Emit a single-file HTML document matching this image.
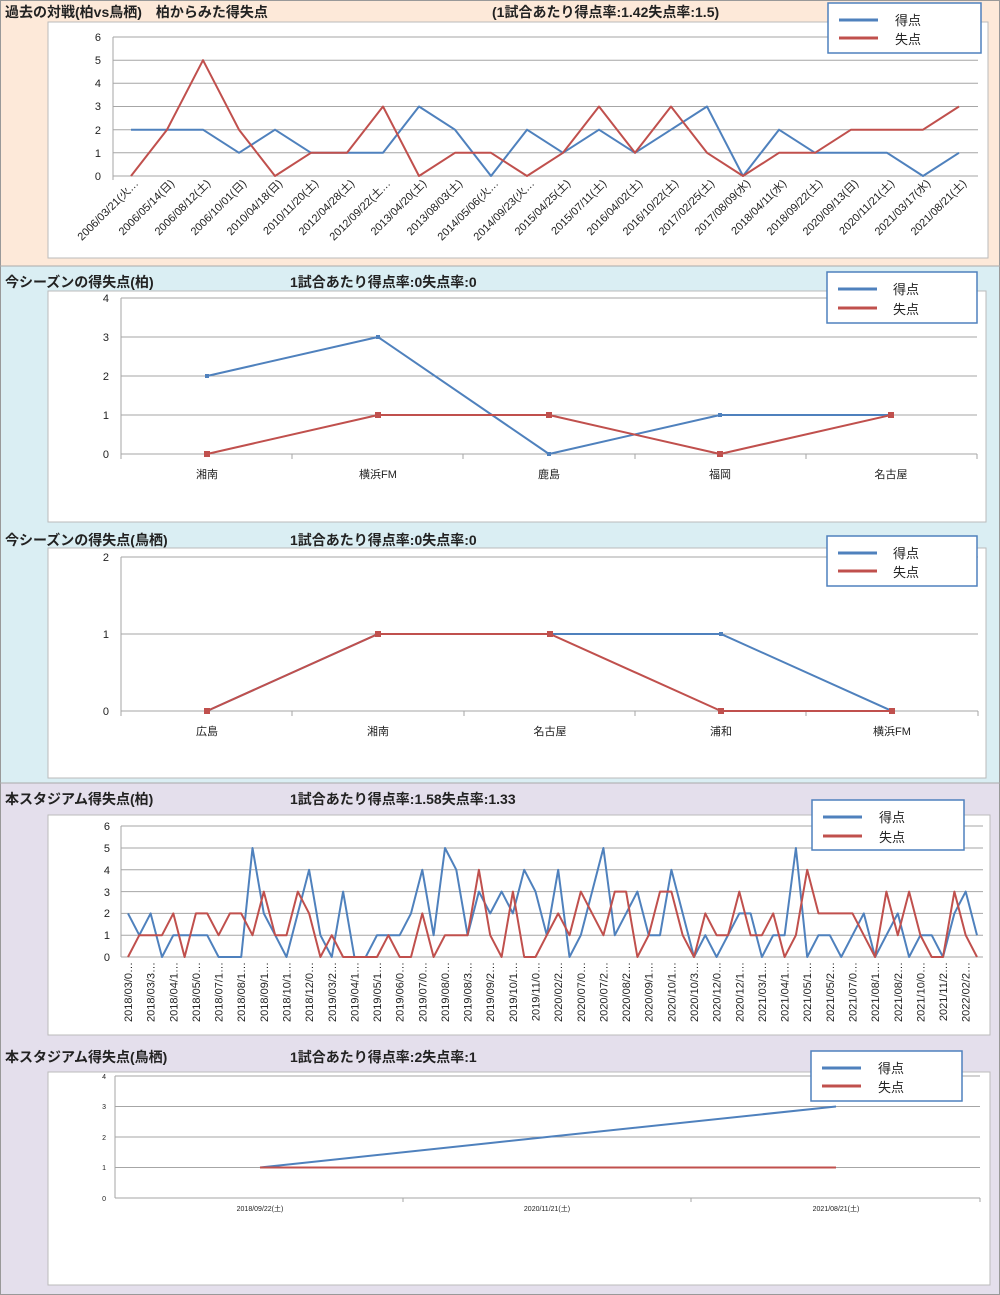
<!DOCTYPE html>
<html><head><meta charset="utf-8"><style>
body{margin:0;padding:0;background:#fff}
svg{display:block}
text{font-family:"Liberation Sans","Noto Sans CJK JP",sans-serif;fill:#222}
.h{font-size:14px;font-weight:bold}
.t{font-size:11px;fill:#333}
.s{font-size:7px;fill:#333}
.g{stroke:#a6a6a6;stroke-width:1}
.b{fill:none;stroke:#4f81bd;stroke-width:2;stroke-linejoin:round}
.r{fill:none;stroke:#c0504d;stroke-width:2;stroke-linejoin:round}
.lg{fill:#fff;stroke:#4f81bd;stroke-width:1.5}
.pl{fill:#fff;stroke:#bbb;stroke-width:1}
</style></head><body>
<svg width="1000" height="1295" viewBox="0 0 1000 1295" xmlns="http://www.w3.org/2000/svg">
<!-- backgrounds -->
<rect x="0" y="0" width="1000" height="266" fill="#fde9d9"/>
<rect x="0" y="266" width="1000" height="517" fill="#daeef3"/>
<rect x="0" y="783" width="1000" height="512" fill="#e4dfec"/>
<rect x="0.5" y="0.5" width="999" height="1294" fill="none" stroke="#999"/>
<line x1="0" y1="266" x2="1000" y2="266" stroke="#aaa"/>
<line x1="0" y1="783" x2="1000" y2="783" stroke="#aaa"/>

<!-- ===== Section 1 ===== -->
<text class="h" x="5" y="17">過去の対戦(柏vs鳥栖)　柏からみた得失点</text>
<text class="h" x="492" y="17">(1試合あたり得点率:1.42失点率:1.5)</text>
<rect class="pl" x="48" y="22" width="940" height="236"/>
<g class="g">
<line x1="113" y1="37" x2="978" y2="37"/><line x1="113" y1="60.2" x2="978" y2="60.2"/><line x1="113" y1="83.3" x2="978" y2="83.3"/><line x1="113" y1="106.5" x2="978" y2="106.5"/><line x1="113" y1="129.7" x2="978" y2="129.7"/><line x1="113" y1="152.8" x2="978" y2="152.8"/><line x1="113" y1="176" x2="978" y2="176"/>
<line x1="113" y1="37" x2="113" y2="180"/>
</g>
<g class="t" text-anchor="end">
<text x="101" y="41">6</text><text x="101" y="64">5</text><text x="101" y="87">4</text><text x="101" y="110">3</text><text x="101" y="134">2</text><text x="101" y="157">1</text><text x="101" y="180">0</text>
</g>
<polyline class="b" points="131,129.7 167,129.7 203,129.7 239,152.8 275,129.7 311,152.8 347,152.8 383,152.8 419,106.5 455,129.7 491,176 527,129.7 563,152.8 599,129.7 635,152.8 671,129.7 707,106.5 743,176 779,129.7 815,152.8 851,152.8 887,152.8 923,176 959,152.8"/>
<polyline class="r" points="131,176 167,129.7 203,60.2 239,129.7 275,176 311,152.8 347,152.8 383,106.5 419,176 455,152.8 491,152.8 527,176 563,152.8 599,106.5 635,152.8 671,106.5 707,152.8 743,176 779,152.8 815,152.8 851,129.7 887,129.7 923,129.7 959,106.5"/>
<g class="t" text-anchor="end">
<text transform="translate(139,184) rotate(-45)">2006/03/21(火…</text>
<text transform="translate(175,184) rotate(-45)">2006/05/14(日)</text>
<text transform="translate(211,184) rotate(-45)">2006/08/12(土)</text>
<text transform="translate(247,184) rotate(-45)">2006/10/01(日)</text>
<text transform="translate(283,184) rotate(-45)">2010/04/18(日)</text>
<text transform="translate(319,184) rotate(-45)">2010/11/20(土)</text>
<text transform="translate(355,184) rotate(-45)">2012/04/28(土)</text>
<text transform="translate(391,184) rotate(-45)">2012/09/22(土…</text>
<text transform="translate(427,184) rotate(-45)">2013/04/20(土)</text>
<text transform="translate(463,184) rotate(-45)">2013/08/03(土)</text>
<text transform="translate(499,184) rotate(-45)">2014/05/06(火…</text>
<text transform="translate(535,184) rotate(-45)">2014/09/23(火…</text>
<text transform="translate(571,184) rotate(-45)">2015/04/25(土)</text>
<text transform="translate(607,184) rotate(-45)">2015/07/11(土)</text>
<text transform="translate(643,184) rotate(-45)">2016/04/02(土)</text>
<text transform="translate(679,184) rotate(-45)">2016/10/22(土)</text>
<text transform="translate(715,184) rotate(-45)">2017/02/25(土)</text>
<text transform="translate(751,184) rotate(-45)">2017/08/09(水)</text>
<text transform="translate(787,184) rotate(-45)">2018/04/11(水)</text>
<text transform="translate(823,184) rotate(-45)">2018/09/22(土)</text>
<text transform="translate(859,184) rotate(-45)">2020/09/13(日)</text>
<text transform="translate(895,184) rotate(-45)">2020/11/21(土)</text>
<text transform="translate(931,184) rotate(-45)">2021/03/17(水)</text>
<text transform="translate(967,184) rotate(-45)">2021/08/21(土)</text>
</g>
<rect class="lg" x="828" y="3" width="153" height="50"/>
<line x1="839" y1="20" x2="878" y2="20" stroke="#4f81bd" stroke-width="3"/>
<line x1="839" y1="38" x2="878" y2="38" stroke="#c0504d" stroke-width="3"/>
<text x="895" y="25" style="font-size:13px">得点</text><text x="895" y="44" style="font-size:13px">失点</text>

<!-- ===== Section 2 ===== -->
<text class="h" x="5" y="287">今シーズンの得失点(柏)</text>
<text class="h" x="290" y="287">1試合あたり得点率:0失点率:0</text>
<rect class="pl" x="48" y="291" width="938" height="231"/>
<g class="g">
<line x1="121" y1="298" x2="977" y2="298"/><line x1="121" y1="337" x2="977" y2="337"/><line x1="121" y1="376" x2="977" y2="376"/><line x1="121" y1="415" x2="977" y2="415"/><line x1="121" y1="454" x2="977" y2="454"/>
<line x1="121" y1="298" x2="121" y2="454"/>
<line x1="121" y1="454" x2="121" y2="459"/><line x1="292" y1="454" x2="292" y2="459"/><line x1="463" y1="454" x2="463" y2="459"/><line x1="635" y1="454" x2="635" y2="459"/><line x1="806" y1="454" x2="806" y2="459"/><line x1="977" y1="454" x2="977" y2="459"/>
</g>
<g class="t" text-anchor="end"><text x="109" y="302">4</text><text x="109" y="341">3</text><text x="109" y="380">2</text><text x="109" y="419">1</text><text x="109" y="458">0</text></g>
<polyline class="b" points="207,376 378,337 549,454 720,415 891,415"/>
<polyline class="r" points="207,454 378,415 549,415 720,454 891,415"/>
<g fill="#4f81bd"><rect x="205" y="374" width="4" height="4"/><rect x="376" y="335" width="4" height="4"/><rect x="547" y="452" width="4" height="4"/><rect x="718" y="413" width="4" height="4"/></g>
<g fill="#c0504d"><rect x="204" y="451" width="6" height="6"/><rect x="375" y="412" width="6" height="6"/><rect x="546" y="412" width="6" height="6"/><rect x="717" y="451" width="6" height="6"/><rect x="888" y="412" width="6" height="6"/></g>
<g class="t" text-anchor="middle"><text x="207" y="478">湘南</text><text x="378" y="478">横浜FM</text><text x="549" y="478">鹿島</text><text x="720" y="478">福岡</text><text x="891" y="478">名古屋</text></g>
<rect class="lg" x="827" y="272" width="150" height="51"/>
<line x1="838" y1="289" x2="877" y2="289" stroke="#4f81bd" stroke-width="3"/>
<line x1="838" y1="308" x2="877" y2="308" stroke="#c0504d" stroke-width="3"/>
<text x="893" y="294" style="font-size:13px">得点</text><text x="893" y="314" style="font-size:13px">失点</text>

<!-- ===== Section 3 ===== -->
<text class="h" x="5" y="545">今シーズンの得失点(鳥栖)</text>
<text class="h" x="290" y="545">1試合あたり得点率:0失点率:0</text>
<rect class="pl" x="48" y="548" width="938" height="230"/>
<g class="g">
<line x1="121" y1="557" x2="978" y2="557"/><line x1="121" y1="634" x2="978" y2="634"/><line x1="121" y1="711" x2="978" y2="711"/>
<line x1="121" y1="557" x2="121" y2="711"/>
<line x1="121" y1="711" x2="121" y2="716"/><line x1="292" y1="711" x2="292" y2="716"/><line x1="464" y1="711" x2="464" y2="716"/><line x1="635" y1="711" x2="635" y2="716"/><line x1="806" y1="711" x2="806" y2="716"/><line x1="978" y1="711" x2="978" y2="716"/>
</g>
<g class="t" text-anchor="end"><text x="109" y="561">2</text><text x="109" y="638">1</text><text x="109" y="715">0</text></g>
<polyline class="b" points="207,711 378,634 550,634 721,634 892,711"/>
<polyline class="r" points="207,711 378,634 550,634 721,711 892,711"/>
<g fill="#4f81bd"><rect x="719" y="632" width="4" height="4"/></g>
<g fill="#c0504d"><rect x="204" y="708" width="6" height="6"/><rect x="375" y="631" width="6" height="6"/><rect x="547" y="631" width="6" height="6"/><rect x="718" y="708" width="6" height="6"/><rect x="889" y="708" width="6" height="6"/></g>
<g class="t" text-anchor="middle"><text x="207" y="735">広島</text><text x="378" y="735">湘南</text><text x="550" y="735">名古屋</text><text x="721" y="735">浦和</text><text x="892" y="735">横浜FM</text></g>
<rect class="lg" x="827" y="536" width="150" height="50"/>
<line x1="838" y1="553" x2="877" y2="553" stroke="#4f81bd" stroke-width="3"/>
<line x1="838" y1="571" x2="877" y2="571" stroke="#c0504d" stroke-width="3"/>
<text x="893" y="558" style="font-size:13px">得点</text><text x="893" y="577" style="font-size:13px">失点</text>

<!-- ===== Section 4 ===== -->
<text class="h" x="5" y="804">本スタジアム得失点(柏)</text>
<text class="h" x="290" y="804">1試合あたり得点率:1.58失点率:1.33</text>
<rect class="pl" x="48" y="815" width="942" height="220"/>
<g class="g">
<line x1="121" y1="826" x2="983" y2="826"/><line x1="121" y1="848" x2="983" y2="848"/><line x1="121" y1="869.8" x2="983" y2="869.8"/><line x1="121" y1="891.6" x2="983" y2="891.6"/><line x1="121" y1="913.4" x2="983" y2="913.4"/><line x1="121" y1="935.2" x2="983" y2="935.2"/><line x1="121" y1="957" x2="983" y2="957"/>
<line x1="121" y1="826" x2="121" y2="957"/>
</g>
<g class="t" text-anchor="end"><text x="110" y="830">6</text><text x="110" y="852">5</text><text x="110" y="874">4</text><text x="110" y="896">3</text><text x="110" y="917">2</text><text x="110" y="939">1</text><text x="110" y="961">0</text></g>
<polyline class="b" points="128,913.4 139.3,935.2 150.6,913.4 162,957 173.3,935.2 184.6,935.2 195.9,935.2 207.2,935.2 218.6,957 229.9,957 241.2,957 252.5,848 263.8,913.4 275.2,935.2 286.5,957 297.8,913.4 309.1,869.8 320.4,935.2 331.8,957 343.1,891.6 354.4,957 365.7,957 377,935.2 388.4,935.2 399.7,935.2 411,913.4 422.3,869.8 433.6,935.2 445,848 456.3,869.8 467.6,935.2 478.9,891.6 490.2,913.4 501.6,891.6 512.9,913.4 524.2,869.8 535.5,891.6 546.8,935.2 558.2,869.8 569.5,957 580.8,935.2 592.1,891.6 603.4,848 614.8,935.2 626.1,913.4 637.4,891.6 648.7,935.2 660,935.2 671.4,869.8 682.7,913.4 694,957 705.3,935.2 716.6,957 728,935.2 739.3,913.4 750.6,913.4 761.9,957 773.2,935.2 784.6,935.2 795.9,848 807.2,957 818.5,935.2 829.8,935.2 841.2,957 852.5,935.2 863.8,913.4 875.1,957 886.4,935.2 897.8,913.4 909.1,957 920.4,935.2 931.7,935.2 943,957 954.4,913.4 965.7,891.6 977,935.2"/>
<polyline class="r" points="128,957 139.3,935.2 150.6,935.2 162,935.2 173.3,913.4 184.6,957 195.9,913.4 207.2,913.4 218.6,935.2 229.9,913.4 241.2,913.4 252.5,935.2 263.8,891.6 275.2,935.2 286.5,935.2 297.8,891.6 309.1,913.4 320.4,957 331.8,935.2 343.1,957 354.4,957 365.7,957 377,957 388.4,935.2 399.7,957 411,957 422.3,913.4 433.6,957 445,935.2 456.3,935.2 467.6,935.2 478.9,869.8 490.2,935.2 501.6,957 512.9,891.6 524.2,957 535.5,957 546.8,935.2 558.2,913.4 569.5,935.2 580.8,891.6 592.1,913.4 603.4,935.2 614.8,891.6 626.1,891.6 637.4,957 648.7,935.2 660,891.6 671.4,891.6 682.7,935.2 694,957 705.3,913.4 716.6,935.2 728,935.2 739.3,891.6 750.6,935.2 761.9,935.2 773.2,913.4 784.6,957 795.9,935.2 807.2,869.8 818.5,913.4 829.8,913.4 841.2,913.4 852.5,913.4 863.8,935.2 875.1,957 886.4,891.6 897.8,935.2 909.1,891.6 920.4,935.2 931.7,957 943,957 954.4,891.6 965.7,935.2 977,957"/>
<g class="t" text-anchor="end">
<text transform="translate(132,962) rotate(-90)">2018/03/0…</text>
<text transform="translate(154.6,962) rotate(-90)">2018/03/3…</text>
<text transform="translate(177.3,962) rotate(-90)">2018/04/1…</text>
<text transform="translate(199.9,962) rotate(-90)">2018/05/0…</text>
<text transform="translate(222.6,962) rotate(-90)">2018/07/1…</text>
<text transform="translate(245.2,962) rotate(-90)">2018/08/1…</text>
<text transform="translate(267.8,962) rotate(-90)">2018/09/1…</text>
<text transform="translate(290.5,962) rotate(-90)">2018/10/1…</text>
<text transform="translate(313.1,962) rotate(-90)">2018/12/0…</text>
<text transform="translate(335.8,962) rotate(-90)">2019/03/2…</text>
<text transform="translate(358.4,962) rotate(-90)">2019/04/1…</text>
<text transform="translate(381,962) rotate(-90)">2019/05/1…</text>
<text transform="translate(403.7,962) rotate(-90)">2019/06/0…</text>
<text transform="translate(426.3,962) rotate(-90)">2019/07/0…</text>
<text transform="translate(449,962) rotate(-90)">2019/08/0…</text>
<text transform="translate(471.6,962) rotate(-90)">2019/08/3…</text>
<text transform="translate(494.2,962) rotate(-90)">2019/09/2…</text>
<text transform="translate(516.9,962) rotate(-90)">2019/10/1…</text>
<text transform="translate(539.5,962) rotate(-90)">2019/11/0…</text>
<text transform="translate(562.2,962) rotate(-90)">2020/02/2…</text>
<text transform="translate(584.8,962) rotate(-90)">2020/07/0…</text>
<text transform="translate(607.4,962) rotate(-90)">2020/07/2…</text>
<text transform="translate(630.1,962) rotate(-90)">2020/08/2…</text>
<text transform="translate(652.7,962) rotate(-90)">2020/09/1…</text>
<text transform="translate(675.4,962) rotate(-90)">2020/10/1…</text>
<text transform="translate(698,962) rotate(-90)">2020/10/3…</text>
<text transform="translate(720.6,962) rotate(-90)">2020/12/0…</text>
<text transform="translate(743.3,962) rotate(-90)">2020/12/1…</text>
<text transform="translate(765.9,962) rotate(-90)">2021/03/1…</text>
<text transform="translate(788.6,962) rotate(-90)">2021/04/1…</text>
<text transform="translate(811.2,962) rotate(-90)">2021/05/1…</text>
<text transform="translate(833.8,962) rotate(-90)">2021/05/2…</text>
<text transform="translate(856.5,962) rotate(-90)">2021/07/0…</text>
<text transform="translate(879.1,962) rotate(-90)">2021/08/1…</text>
<text transform="translate(901.8,962) rotate(-90)">2021/08/2…</text>
<text transform="translate(924.4,962) rotate(-90)">2021/10/0…</text>
<text transform="translate(947,962) rotate(-90)">2021/11/2…</text>
<text transform="translate(969.7,962) rotate(-90)">2022/02/2…</text>
</g>
<rect class="lg" x="812" y="800" width="152" height="50"/>
<line x1="823" y1="817" x2="862" y2="817" stroke="#4f81bd" stroke-width="3"/>
<line x1="823" y1="836" x2="862" y2="836" stroke="#c0504d" stroke-width="3"/>
<text x="879" y="822" style="font-size:13px">得点</text><text x="879" y="842" style="font-size:13px">失点</text>

<!-- ===== Section 5 ===== -->
<text class="h" x="5" y="1062">本スタジアム得失点(鳥栖)</text>
<text class="h" x="290" y="1062">1試合あたり得点率:2失点率:1</text>
<rect class="pl" x="48" y="1072" width="942" height="213"/>
<g class="g">
<line x1="115" y1="1076" x2="980" y2="1076"/><line x1="115" y1="1106.5" x2="980" y2="1106.5"/><line x1="115" y1="1137" x2="980" y2="1137"/><line x1="115" y1="1167.5" x2="980" y2="1167.5"/><line x1="115" y1="1198" x2="980" y2="1198"/>
<line x1="115" y1="1076" x2="115" y2="1198"/>
<line x1="403" y1="1198" x2="403" y2="1202"/><line x1="691" y1="1198" x2="691" y2="1202"/><line x1="980" y1="1198" x2="980" y2="1202"/>
</g>
<g class="s" text-anchor="end"><text x="106" y="1079">4</text><text x="106" y="1109">3</text><text x="106" y="1140">2</text><text x="106" y="1170">1</text><text x="106" y="1201">0</text></g>
<polyline class="b" points="260,1167.5 547,1137 836,1106.5"/>
<polyline class="r" points="260,1167.5 547,1167.5 836,1167.5"/>
<g class="s" text-anchor="middle"><text x="260" y="1211">2018/09/22(土)</text><text x="547" y="1211">2020/11/21(土)</text><text x="836" y="1211">2021/08/21(土)</text></g>
<rect class="lg" x="811" y="1051" width="151" height="50"/>
<line x1="822" y1="1068" x2="861" y2="1068" stroke="#4f81bd" stroke-width="3"/>
<line x1="822" y1="1086" x2="861" y2="1086" stroke="#c0504d" stroke-width="3"/>
<text x="878" y="1073" style="font-size:13px">得点</text><text x="878" y="1092" style="font-size:13px">失点</text>
</svg>
</body></html>
